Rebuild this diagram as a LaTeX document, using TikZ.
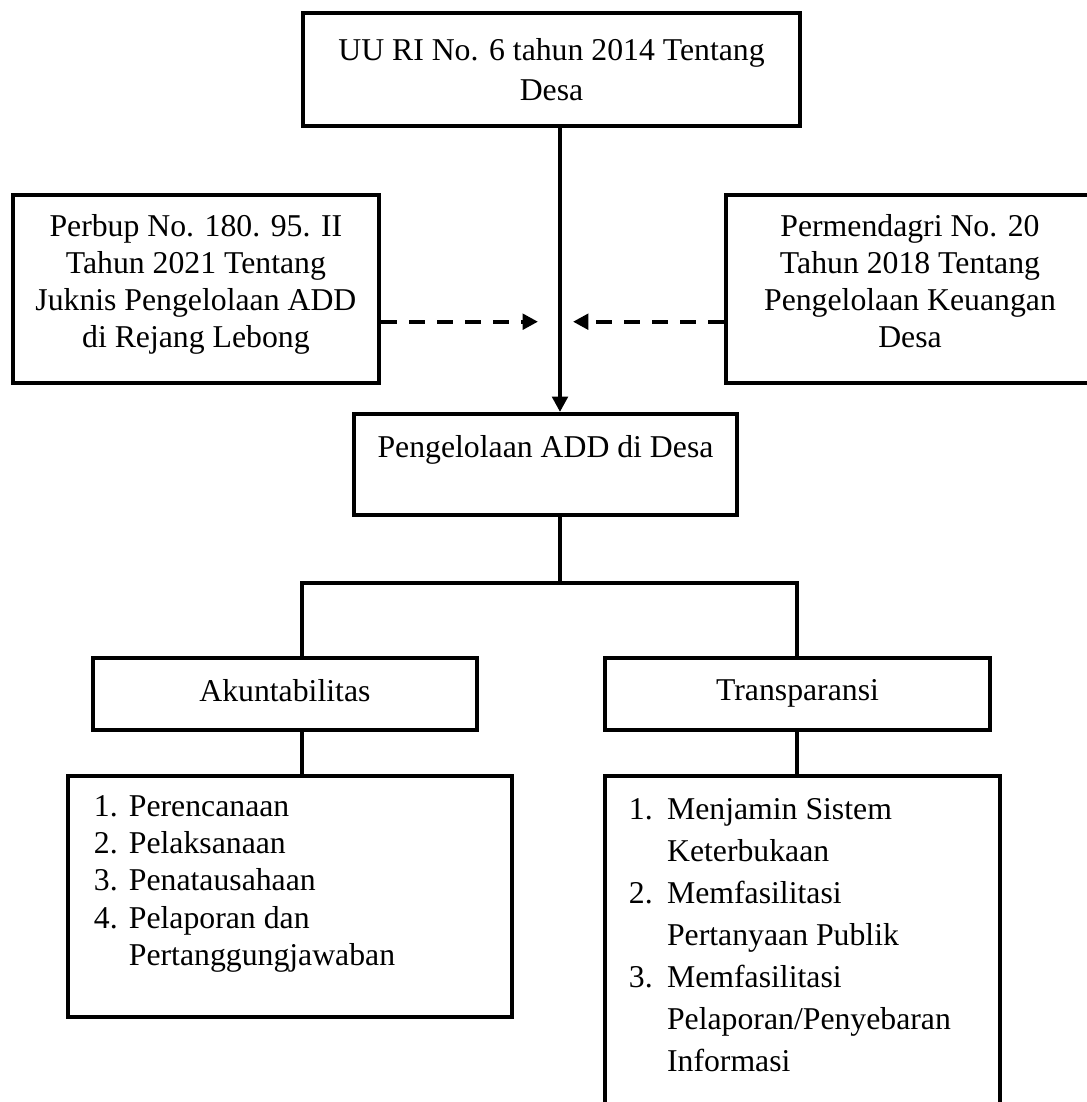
\documentclass[tikz,border=0pt]{standalone}
\usepackage{fontspec}
\setmainfont{Liberation Serif}
\usepackage{tikz}
\usetikzlibrary{positioning}
\usetikzlibrary{arrows.meta}

\begin{document}
\begin{tikzpicture}[x=0.378pt,y=-0.378pt,line width=1.5pt,
  box/.style={draw,line width=1.5pt,inner sep=0pt,align=center,font=\fontsize{12}{14}\selectfont},
  tip/.style={-{Triangle[length=5.8pt,width=5.8pt]}},
  dashtip/.style={tip,dash pattern=on 6pt off 4.6pt}]
\clip (0,0) rectangle (1087,1102);
\node[box,minimum width=187.9pt,minimum height=42.7pt,font=\fontsize{12}{15}\selectfont] (uu) at (551.5,69.5) {UU RI No. 6 tahun 2014 Tentang\\Desa};
\node[box,minimum width=138.5pt,minimum height=71.1pt,text depth=6.3pt] (perbup) at (195.9,289) {Perbup No. 180. 95. II\\Tahun 2021 Tentang\\Juknis Pengelolaan ADD\\di Rejang Lebong};
\node[box,minimum width=139.1pt,minimum height=71.1pt,text depth=6.3pt] (permen) at (910,289) {Permendagri No. 20\\Tahun 2018 Tentang\\Pengelolaan Keuangan\\Desa};
\node[box,minimum width=144.8pt,minimum height=38.2pt,text depth=13.9pt] (pengel) at (545.5,464.5) {Pengelolaan ADD di Desa};
\node[box,minimum width=145.3pt,minimum height=27pt,text depth=2.6pt] (akun) at (284.9,693.8) {Akuntabilitas};
\node[box,minimum width=145.5pt,minimum height=27pt,text depth=2.6pt] (trans) at (797.5,693.8) {Transparansi};
\node[box,minimum width=167.8pt,minimum height=91.1pt] (akunlist) at (290,896.5) {};
\node[box,minimum width=149.3pt,minimum height=130pt] (translist) at (802.5,948) {};
\node[anchor=north west,inner sep=0pt,font=\fontsize{12}{14}\selectfont] (akuntext) at (92,789) {\begin{tabular}{@{}p{13.2pt}@{}l@{}}1. & Perencanaan\\2. & Pelaksanaan\\3. & Penatausahaan\\4. & Pelaporan dan\\ & Pertanggungjawaban\end{tabular}};
\node[anchor=north west,inner sep=0pt,font=\fontsize{12}{15.9}\selectfont] (transtext) at (627,787.6) {\begin{tabular}{@{}p{14.4pt}@{}l@{}}1. & Menjamin Sistem\\ & Keterbukaan\\2. & Memfasilitasi\\ & Pertanyaan Publik\\3. & Memfasilitasi\\ & Pelaporan/Penyebaran\\ & Informasi\end{tabular}};
\coordinate (axis) at (560,0);
\coordinate (lmid) at (538,321.7);
\coordinate (rmid) at (573,321.7);
\coordinate (lbr) at (302,583);
\coordinate (rbr) at (797,583);
\draw[tip] (uu.south -| axis) -- (pengel.north -| axis);
\draw[dashtip] (perbup.east |- lmid) -- (lmid);
\draw[dashtip] (permen.west |- rmid) -- (rmid);
\draw (pengel.south -| axis) -- (axis |- lbr);
\draw (akun.north -| lbr) -- (lbr) -- (rbr) -- (trans.north -| rbr);
\draw (akun.south -| lbr) -- (akunlist.north -| lbr);
\draw (trans.south -| rbr) -- (translist.north -| rbr);
\end{tikzpicture}
\end{document}
